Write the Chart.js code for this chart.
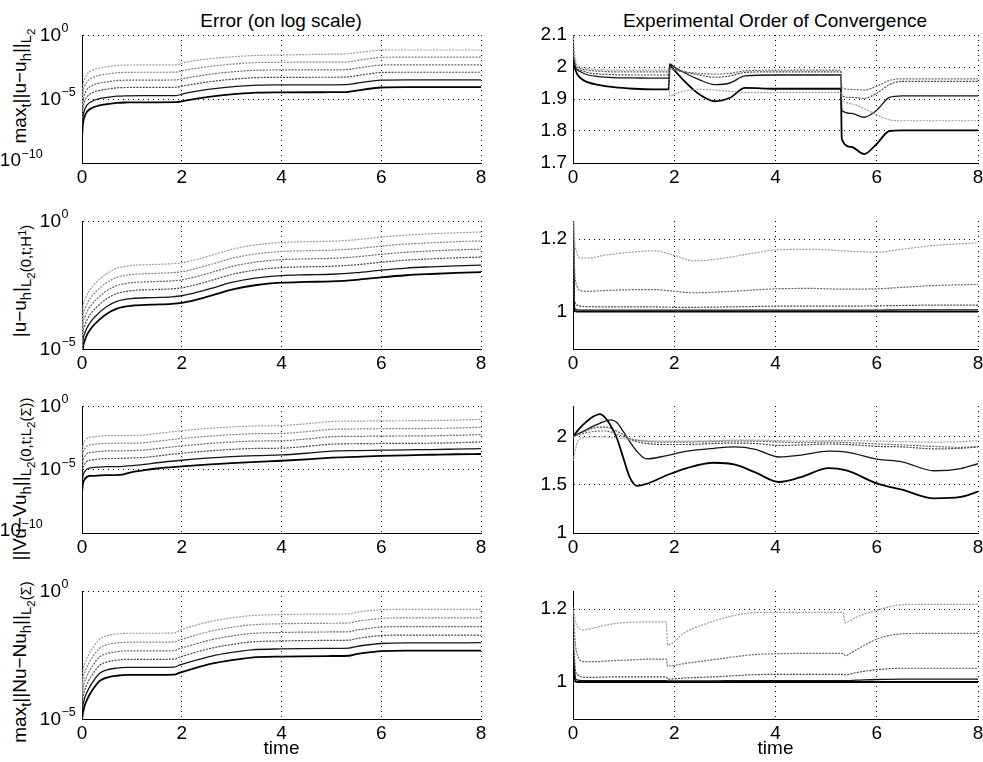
<!DOCTYPE html>
<html lang="en">
<head>
<meta charset="UTF-8" />
<title>Error and experimental order of convergence</title>
<script src="https://cdn.jsdelivr.net/npm/chart.js"></script>
<style>
  html, body { margin: 0; padding: 0; background: #fff; overflow: hidden; }
  body { width: 983px; height: 762px; position: relative; font-family: "Liberation Sans", Arial, sans-serif; color: #000; }
  canvas { position: absolute; }
  .title { position: absolute; font-size: 19px; line-height: 19px; white-space: nowrap; transform: translateX(-50%); }
  .ylab { position: absolute; font-size: 19px; line-height: 19px; white-space: nowrap; transform: translate(-50%, -50%) rotate(-90deg); }
  .ylab .sb { font-size: 0.78em; position: relative; top: 0.35em; }
  .ylab .sp { font-size: 0.78em; position: relative; top: -0.45em; }
</style>
</head>
<body>
<div class="title" style="left:281px; top:11px">Error (on log scale)</div>
<div class="title" style="left:775px; top:11px">Experimental Order of Convergence</div>

<div class="ylab" style="left:21px; top:86px">max<span class="sb">t</span>||u−u<span class="sb">h</span>||<span class="sb">L<span class="sb">2</span></span></div>
<div class="ylab" style="left:21px; top:281px">|u−u<span class="sb">h</span>|<span class="sb">L<span class="sb">2</span>(0,t;H<span class="sp">1</span>)</span></div>
<div class="ylab" style="left:21px; top:479px">||Vu−Vu<span class="sb">h</span>||<span class="sb">L<span class="sb">2</span>(0,t;L<span class="sb">2</span>(Σ))</span></div>
<div class="ylab" style="left:21px; top:662px">max<span class="sb">t</span>||Nu−Nu<span class="sb">h</span>||<span class="sb">L<span class="sb">2</span>(Σ)</span></div>

<script>
// ticks
const xTicks = [0, 2, 4, 6, 8];
const logTicks10 = [1e-10, 1e-5, 1];
const logTicks5 = [1e-5, 1];
const eocTicksU = [1.7, 1.8, 1.9, 2, 2.1];
const eocTicksH = [1, 1.2];
const eocTicksV = [1, 1.5, 2];
const eocTicksN = [1, 1.2];

// errors are stored as log10 values, coarsest mesh first, finest last
// row 1: max_t ||u-u_h||_L2
const tErrU = [0, 0.02, 0.05, 0.1, 0.2, 0.35, 0.5, 0.7, 0.9, 1.2, 1.5, 1.9, 2.0, 2.3, 2.7, 3.1, 3.5, 4, 5, 5.3, 5.5, 5.8, 6.0, 6.5, 7, 8];
const errU1 = [-5.5, -3.98, -3.48, -3.08, -2.78, -2.58, -2.48, -2.38, -2.35, -2.34, -2.34, -2.33, -2.2, -1.98, -1.8, -1.68, -1.6, -1.56, -1.5, -1.48, -1.38, -1.25, -1.18, -1.17, -1.17, -1.17];
const errU2 = [-6.0, -4.55, -4.05, -3.65, -3.35, -3.15, -3.05, -2.95, -2.92, -2.91, -2.91, -2.9, -2.8, -2.6, -2.39, -2.25, -2.15, -2.13, -2.12, -2.11, -2.0, -1.83, -1.75, -1.73, -1.73, -1.73];
const errU3 = [-6.5, -5.16, -4.66, -4.26, -3.96, -3.76, -3.66, -3.56, -3.53, -3.52, -3.52, -3.51, -3.42, -3.22, -3.0, -2.85, -2.75, -2.73, -2.72, -2.71, -2.6, -2.43, -2.35, -2.33, -2.33, -2.33];
const errU4 = [-7.0, -5.73, -5.23, -4.83, -4.53, -4.33, -4.23, -4.13, -4.1, -4.09, -4.09, -4.08, -4.0, -3.8, -3.58, -3.43, -3.33, -3.31, -3.3, -3.29, -3.18, -3.01, -2.93, -2.91, -2.91, -2.91];
const errU5 = [-7.5, -6.38, -5.88, -5.48, -5.18, -4.98, -4.88, -4.78, -4.75, -4.74, -4.74, -4.73, -4.62, -4.39, -4.17, -4.02, -3.92, -3.9, -3.89, -3.88, -3.77, -3.6, -3.52, -3.5, -3.5, -3.5];
const errU6 = [-8.0, -6.9, -6.4, -6.0, -5.7, -5.5, -5.4, -5.3, -5.27, -5.26, -5.26, -5.25, -5.18, -4.97, -4.75, -4.6, -4.5, -4.48, -4.47, -4.46, -4.35, -4.18, -4.1, -4.08, -4.08, -4.08];

const tEocU = [0, 0.05, 0.15, 0.3, 0.5, 0.8, 1.2, 1.6, 1.89, 1.91, 2.0, 2.2, 2.5, 2.8, 3.1, 3.4, 4.0, 5.0, 5.29, 5.31, 5.5, 5.75, 6.0, 6.25, 6.5, 7, 8];
const eocU1 = [2.1, 2.02, 2.0, 1.995, 1.992, 1.99, 1.99, 1.99, 1.99, 1.91, 1.915, 1.925, 1.93, 1.928, 1.924, 1.92, 1.92, 1.92, 1.92, 1.9, 1.885, 1.87, 1.85, 1.835, 1.832, 1.832, 1.832];
const eocU2 = [2.06, 2.01, 1.995, 1.99, 1.987, 1.985, 1.985, 1.985, 1.985, 1.995, 1.99, 1.985, 1.98, 1.978, 1.98, 1.988, 1.99, 1.99, 1.99, 1.935, 1.93, 1.928, 1.94, 1.958, 1.963, 1.963, 1.963];
const eocU3 = [2.05, 2.0, 1.99, 1.982, 1.978, 1.976, 1.975, 1.975, 1.975, 2.0, 1.995, 1.985, 1.975, 1.968, 1.972, 1.983, 1.985, 1.985, 1.985, 1.91, 1.905, 1.902, 1.918, 1.945, 1.955, 1.955, 1.955];
const eocU4 = [2.04, 2.0, 1.985, 1.975, 1.97, 1.967, 1.966, 1.965, 1.965, 2.01, 2.0, 1.982, 1.96, 1.945, 1.95, 1.972, 1.975, 1.975, 1.975, 1.865, 1.855, 1.843, 1.865, 1.905, 1.91, 1.91, 1.91];
const eocU5 = [2.03, 1.99, 1.965, 1.952, 1.944, 1.937, 1.932, 1.93, 1.93, 2.005, 1.99, 1.956, 1.914, 1.893, 1.904, 1.935, 1.932, 1.932, 1.932, 1.775, 1.75, 1.728, 1.76, 1.8, 1.802, 1.802, 1.802];

// row 2: |u-u_h|_L2(0,t;H1)
const tErrH = [0, 0.02, 0.05, 0.1, 0.2, 0.35, 0.5, 0.7, 1.0, 1.4, 1.8, 2.0, 2.3, 2.7, 3.0, 3.5, 4.0, 4.5, 5.0, 5.5, 6.0, 6.5, 7.0, 7.5, 8];
const errH1 = [-5.5, -3.38, -3.13, -2.88, -2.58, -2.28, -2.05, -1.85, -1.74, -1.7, -1.67, -1.63, -1.5, -1.28, -1.11, -0.93, -0.84, -0.81, -0.79, -0.73, -0.63, -0.55, -0.5, -0.46, -0.43];
const errH2 = [-5.5, -3.73, -3.48, -3.23, -2.93, -2.63, -2.4, -2.2, -2.09, -2.05, -2.02, -1.98, -1.85, -1.63, -1.46, -1.28, -1.19, -1.16, -1.14, -1.08, -0.98, -0.9, -0.85, -0.81, -0.78];
const errH3 = [-5.5, -4.05, -3.8, -3.55, -3.25, -2.95, -2.72, -2.52, -2.41, -2.37, -2.34, -2.3, -2.17, -1.95, -1.78, -1.6, -1.51, -1.48, -1.46, -1.4, -1.3, -1.22, -1.17, -1.13, -1.1];
const errH4 = [-5.5, -4.36, -4.11, -3.86, -3.56, -3.26, -3.03, -2.83, -2.72, -2.68, -2.65, -2.61, -2.48, -2.26, -2.09, -1.91, -1.82, -1.79, -1.77, -1.71, -1.61, -1.53, -1.48, -1.44, -1.41];
const errH5 = [-5.5, -4.67, -4.42, -4.17, -3.87, -3.57, -3.34, -3.14, -3.03, -2.99, -2.96, -2.92, -2.79, -2.57, -2.4, -2.22, -2.13, -2.1, -2.08, -2.02, -1.92, -1.84, -1.79, -1.75, -1.72];
const errH6 = [-5.5, -4.95, -4.7, -4.45, -4.15, -3.85, -3.62, -3.42, -3.31, -3.27, -3.24, -3.2, -3.07, -2.85, -2.68, -2.5, -2.41, -2.38, -2.36, -2.3, -2.2, -2.12, -2.07, -2.03, -2.0];

const tEocH = [0, 0.03, 0.08, 0.15, 0.3, 0.6, 1.0, 1.6, 2.0, 2.4, 3.0, 3.5, 4.0, 4.7, 5.3, 6.0, 6.5, 7.1, 8];
const eocH1 = [1.3, 1.2, 1.16, 1.148, 1.148, 1.155, 1.162, 1.168, 1.155, 1.14, 1.148, 1.16, 1.17, 1.172, 1.168, 1.164, 1.172, 1.182, 1.19];
const eocH2 = [1.3, 1.12, 1.07, 1.058, 1.056, 1.058, 1.06, 1.061, 1.056, 1.052, 1.055, 1.059, 1.063, 1.064, 1.062, 1.063, 1.067, 1.072, 1.075];
const eocH3 = [1.3, 1.03, 1.018, 1.015, 1.014, 1.013, 1.013, 1.013, 1.012, 1.012, 1.013, 1.014, 1.015, 1.015, 1.015, 1.016, 1.017, 1.018, 1.018];
const eocH4 = [1.3, 1.008, 1.005, 1.004, 1.004, 1.004, 1.004, 1.004, 1.004, 1.004, 1.004, 1.004, 1.004, 1.004, 1.004, 1.004, 1.005, 1.005, 1.005];
const eocH5 = [1.3, 1.001, 1.0, 1.0, 1.0, 1.0, 1.0, 1.0, 1.0, 1.0, 1.0, 1.0, 1.0, 1.0, 1.0, 1.0, 1.0, 1.0, 1.0];

// row 3: ||Vu-Vu_h||_L2(0,t;L2(Sigma))
const tErrV = [0, 0.02, 0.05, 0.1, 0.2, 0.35, 0.5, 0.75, 1.0, 1.25, 1.5, 2.0, 2.5, 3.0, 3.5, 4.0, 4.5, 5.0, 5.5, 6.0, 6.5, 7.0, 7.5, 8];
const errV1 = [-3.8, -3.1, -2.79, -2.55, -2.44, -2.38, -2.34, -2.33, -2.32, -2.28, -2.17, -1.95, -1.78, -1.65, -1.57, -1.54, -1.4, -1.22, -1.19, -1.17, -1.16, -1.15, -1.11, -1.05];
const errV2 = [-4.4, -3.7, -3.39, -3.15, -3.04, -2.98, -2.94, -2.93, -2.93, -2.89, -2.78, -2.56, -2.39, -2.26, -2.18, -2.16, -2.02, -1.84, -1.81, -1.79, -1.78, -1.77, -1.73, -1.67];
const errV3 = [-5.0, -4.3, -3.99, -3.75, -3.64, -3.58, -3.54, -3.53, -3.51, -3.47, -3.36, -3.14, -2.97, -2.84, -2.76, -2.74, -2.6, -2.42, -2.39, -2.37, -2.36, -2.35, -2.31, -2.25];
const errV4 = [-5.6, -4.9, -4.59, -4.35, -4.24, -4.18, -4.14, -4.13, -4.09, -4.05, -3.94, -3.72, -3.55, -3.42, -3.34, -3.32, -3.18, -3.0, -2.97, -2.95, -2.94, -2.93, -2.89, -2.83];
const errV5 = [-6.2, -5.5, -5.19, -4.96, -4.86, -4.81, -4.78, -4.77, -4.69, -4.6, -4.47, -4.27, -4.11, -3.98, -3.9, -3.85, -3.72, -3.56, -3.51, -3.48, -3.45, -3.43, -3.39, -3.35];
const errV6 = [-6.8, -6.1, -5.8, -5.58, -5.5, -5.47, -5.45, -5.43, -5.2, -5.05, -4.92, -4.76, -4.62, -4.5, -4.4, -4.31, -4.2, -4.06, -4.0, -3.93, -3.88, -3.84, -3.8, -3.78];

const tEocV = [0, 0.1, 0.25, 0.4, 0.53, 0.65, 0.75, 0.86, 1.0, 1.12, 1.26, 1.45, 1.85, 2.25, 2.78, 3.2, 3.6, 4.07, 4.5, 5.05, 5.4, 6.03, 6.5, 7.13, 7.66, 8];
const eocV1 = [1.75, 1.96, 1.99, 2.0, 2.0, 2.0, 1.995, 1.99, 1.98, 1.97, 1.965, 1.96, 1.955, 1.955, 1.96, 1.965, 1.965, 1.96, 1.955, 1.96, 1.96, 1.955, 1.95, 1.945, 1.95, 1.96];
const eocV2 = [2.0, 2.02, 2.04, 2.055, 2.06, 2.06, 2.05, 2.03, 2.0, 1.98, 1.965, 1.95, 1.945, 1.945, 1.95, 1.955, 1.955, 1.945, 1.94, 1.945, 1.94, 1.925, 1.915, 1.9, 1.89, 1.9];
const eocV3 = [2.0, 2.03, 2.06, 2.09, 2.1, 2.1, 2.09, 2.06, 2.02, 1.98, 1.95, 1.93, 1.92, 1.92, 1.93, 1.935, 1.93, 1.91, 1.915, 1.925, 1.92, 1.9, 1.895, 1.875, 1.88, 1.895];
const eocV4 = [2.0, 2.03, 2.07, 2.11, 2.14, 2.165, 2.175, 2.15, 2.05, 1.95, 1.85, 1.77, 1.805, 1.85, 1.88, 1.895, 1.87, 1.79, 1.81, 1.85, 1.84, 1.766, 1.74, 1.647, 1.67, 1.72];
const eocV5 = [2.0, 2.07, 2.15, 2.21, 2.235, 2.19, 2.11, 1.995, 1.77, 1.58, 1.49, 1.51, 1.6, 1.675, 1.73, 1.71, 1.63, 1.53, 1.58, 1.675, 1.65, 1.51, 1.45, 1.36, 1.375, 1.43];

// row 4: max_t ||Nu-Nu_h||_L2(Sigma)
const tErrN = [0, 0.02, 0.05, 0.1, 0.2, 0.35, 0.5, 0.7, 0.9, 1.2, 1.5, 1.85, 1.95, 2.2, 2.6, 3.0, 3.4, 4, 5, 5.35, 5.5, 5.8, 6.0, 6.5, 7, 8];
const errN1 = [-4.0, -3.12, -2.87, -2.62, -2.27, -1.89, -1.75, -1.68, -1.65, -1.65, -1.65, -1.64, -1.55, -1.38, -1.18, -1.05, -0.96, -0.92, -0.9, -0.89, -0.83, -0.76, -0.73, -0.72, -0.72, -0.72];
const errN2 = [-4.2, -3.47, -3.22, -2.97, -2.62, -2.24, -2.1, -2.03, -2.0, -2.0, -2.0, -1.99, -1.92, -1.77, -1.56, -1.42, -1.32, -1.28, -1.26, -1.25, -1.19, -1.11, -1.07, -1.05, -1.05, -1.05];
const errN3 = [-4.4, -3.81, -3.56, -3.31, -2.96, -2.58, -2.44, -2.37, -2.34, -2.34, -2.34, -2.33, -2.26, -2.11, -1.9, -1.76, -1.66, -1.62, -1.6, -1.59, -1.53, -1.45, -1.41, -1.39, -1.39, -1.39];
const errN4 = [-4.6, -4.14, -3.89, -3.64, -3.29, -2.91, -2.77, -2.7, -2.67, -2.67, -2.67, -2.66, -2.59, -2.44, -2.23, -2.09, -1.99, -1.95, -1.93, -1.92, -1.86, -1.78, -1.74, -1.72, -1.72, -1.72];
const errN5 = [-4.8, -4.45, -4.2, -3.95, -3.6, -3.22, -3.08, -3.01, -2.98, -2.98, -2.98, -2.97, -2.9, -2.75, -2.54, -2.4, -2.3, -2.26, -2.24, -2.23, -2.17, -2.09, -2.05, -2.03, -2.03, -2.02];
const errN6 = [-5.0, -4.75, -4.5, -4.25, -3.9, -3.52, -3.38, -3.31, -3.28, -3.28, -3.28, -3.27, -3.2, -3.05, -2.84, -2.7, -2.6, -2.56, -2.54, -2.53, -2.47, -2.39, -2.35, -2.33, -2.33, -2.33];

const tEocN = [0, 0.05, 0.1, 0.2, 0.4, 0.8, 1.2, 1.5, 1.84, 1.87, 2.2, 2.74, 3.27, 3.53, 4.0, 5.0, 5.34, 5.37, 5.6, 6.0, 6.5, 7.0, 8];
const eocN1 = [1.205, 1.165, 1.15, 1.143, 1.148, 1.16, 1.164, 1.165, 1.165, 1.101, 1.135, 1.165, 1.185, 1.19, 1.191, 1.191, 1.191, 1.163, 1.178, 1.197, 1.212, 1.213, 1.213];
const eocN2 = [1.2, 1.1, 1.07, 1.055, 1.055, 1.058, 1.06, 1.062, 1.062, 1.043, 1.05, 1.06, 1.07, 1.074, 1.077, 1.078, 1.078, 1.072, 1.088, 1.117, 1.132, 1.133, 1.133];
const eocN3 = [1.15, 1.03, 1.018, 1.012, 1.012, 1.013, 1.013, 1.013, 1.013, 1.007, 1.01, 1.013, 1.017, 1.019, 1.02, 1.02, 1.02, 1.019, 1.025, 1.033, 1.037, 1.037, 1.037];
const eocN4 = [1.1, 1.008, 1.004, 1.003, 1.003, 1.003, 1.003, 1.003, 1.003, 1.002, 1.002, 1.002, 1.003, 1.003, 1.003, 1.003, 1.003, 1.003, 1.004, 1.006, 1.007, 1.007, 1.007];
const eocN5 = [1.05, 1.0, 0.999, 0.999, 0.999, 0.999, 0.999, 0.999, 0.999, 0.999, 0.999, 0.999, 0.999, 0.999, 0.999, 0.999, 0.999, 0.999, 0.999, 0.999, 0.999, 0.999, 0.999];

Chart.defaults.font.family = '"Liberation Sans", Arial, sans-serif';
Chart.defaults.font.size = 19;
Chart.defaults.color = '#000';

// line looks, coarse -> fine
const errStyle = [
  { color: '#9c9c9c', width: 1.2, dash: [2, 1.2] },
  { color: '#828282', width: 1.2, dash: [2, 1.2] },
  { color: '#666666', width: 1.2, dash: [2, 1.2] },
  { color: '#454545', width: 1.2, dash: [2, 1.2] },
  { color: '#151515', width: 1.3, dash: [] },
  { color: '#000000', width: 1.8, dash: [] }
];
const eocStyle = [errStyle[0], errStyle[2], errStyle[3], errStyle[4], errStyle[5]];

function makeSets(t, series, styles, isLog) {
  return series.map((s, k) => ({
    data: t.map((tt, i) => ({ x: tt, y: isLog ? Math.pow(10, s[i]) : s[i] })),
    borderColor: styles[k].color,
    borderWidth: styles[k].width,
    borderDash: styles[k].dash,
    pointRadius: 0,
    fill: false,
    cubicInterpolationMode: 'monotone'
  }));
}

// "10" with a raised exponent; the bases line up, the 10^-10 label sits further left as in the original
const logLabels = {
  id: 'logLabels',
  afterDraw(chart) {
    const s = chart.scales.y;
    if (s.type !== 'logarithmic') return;
    const ctx = chart.ctx;
    const fam = '"Liberation Sans", Arial, sans-serif';
    ctx.save();
    ctx.fillStyle = '#000';
    ctx.textBaseline = 'alphabetic';
    s.ticks.forEach(t => {
      const y = s.getPixelForValue(t.value);
      const p = Math.round(Math.log10(t.value));
      const ex = p < 0 ? '\u2212' + (-p) : String(p);
      const wide = p <= -10;
      const baseRight = wide ? s.right - 61 : s.right - 21;
      ctx.font = '19px ' + fam;
      ctx.textAlign = 'right';
      ctx.fillText('10', baseRight, wide ? y + 3 : y + 5.5);
      ctx.font = '12.5px ' + fam;
      ctx.textAlign = 'left';
      ctx.fillText(ex, baseRight + 0.5, wide ? y - 5 : y - 3);
    });
    ctx.restore();
  }
};

const rows = [
  { top: 35, bottom: 163 },
  { top: 221, bottom: 349 },
  { top: 406, bottom: 533 },
  { top: 591, bottom: 719 }
];

function panel(col, row, cfg) {
  const r = rows[row];
  const plotLeft = col === 0 ? 82 : 573;
  const plotRight = col === 0 ? 481 : 978;
  const cx = col === 0 ? 0 : 495;
  const cw = col === 0 ? 495 : 498;
  const cy = r.top - 28;
  const cb = row === 3 ? 762 : r.bottom + 30;

  const canvas = document.createElement('canvas');
  canvas.width = cw;
  canvas.height = cb - cy;
  canvas.style.left = cx + 'px';
  canvas.style.top = cy + 'px';
  canvas.style.width = cw + 'px';
  canvas.style.height = (cb - cy) + 'px';
  document.body.appendChild(canvas);

  const gridOpts = { color: '#000', lineWidth: 1, drawTicks: false };
  const borderOpts = { color: '#000', width: 1, dash: [1, 4] };

  new Chart(canvas, {
    type: 'line',
    data: { datasets: cfg.datasets },
    options: {
      responsive: false,
      animation: false,
      devicePixelRatio: 1,
      layout: { padding: { left: 0, top: r.top - cy, right: cx + cw - plotRight, bottom: 0 } },
      plugins: { legend: { display: false }, tooltip: { enabled: false } },
      scales: {
        x: {
          type: 'linear', min: 0, max: 8,
          afterBuildTicks: s => { s.ticks = xTicks.map(v => ({ value: v })); },
          afterFit: s => { s.height = cb - r.bottom; },
          ticks: { padding: 3, color: '#000' },
          grid: gridOpts,
          border: borderOpts,
          title: { display: row === 3, text: 'time', color: '#000', padding: { top: 0, bottom: 2 } }
        },
        y: {
          type: cfg.log ? 'logarithmic' : 'linear',
          min: cfg.min, max: cfg.max,
          afterBuildTicks: s => { s.ticks = cfg.ticks.map(v => ({ value: v })); },
          afterFit: s => { s.width = plotLeft - cx; },
          ticks: { display: !cfg.log, padding: 6, color: '#000', callback: v => String(+v.toFixed(2)) },
          grid: gridOpts,
          border: borderOpts
        }
      }
    },
    plugins: [logLabels]
  });
}

panel(0, 0, { log: true, min: 1e-10, max: 1, ticks: logTicks10,
  datasets: makeSets(tErrU, [errU1, errU2, errU3, errU4, errU5, errU6], errStyle, true) });
panel(1, 0, { log: false, min: 1.7, max: 2.1, ticks: eocTicksU,
  datasets: makeSets(tEocU, [eocU1, eocU2, eocU3, eocU4, eocU5], eocStyle, false) });
panel(0, 1, { log: true, min: 1e-5, max: 1, ticks: logTicks5,
  datasets: makeSets(tErrH, [errH1, errH2, errH3, errH4, errH5, errH6], errStyle, true) });
panel(1, 1, { log: false, min: 0.897, max: 1.25, ticks: eocTicksH,
  datasets: makeSets(tEocH, [eocH1, eocH2, eocH3, eocH4, eocH5], eocStyle, false) });
panel(0, 2, { log: true, min: 1e-10, max: 1, ticks: logTicks10,
  datasets: makeSets(tErrV, [errV1, errV2, errV3, errV4, errV5, errV6], errStyle, true) });
panel(1, 2, { log: false, min: 1, max: 2.32, ticks: eocTicksV,
  datasets: makeSets(tEocV, [eocV1, eocV2, eocV3, eocV4, eocV5], eocStyle, false) });
panel(0, 3, { log: true, min: 1e-5, max: 1, ticks: logTicks5,
  datasets: makeSets(tErrN, [errN1, errN2, errN3, errN4, errN5, errN6], errStyle, true) });
panel(1, 3, { log: false, min: 0.897, max: 1.25, ticks: eocTicksN,
  datasets: makeSets(tEocN, [eocN1, eocN2, eocN3, eocN4, eocN5], eocStyle, false) });
</script>
</body>
</html>
